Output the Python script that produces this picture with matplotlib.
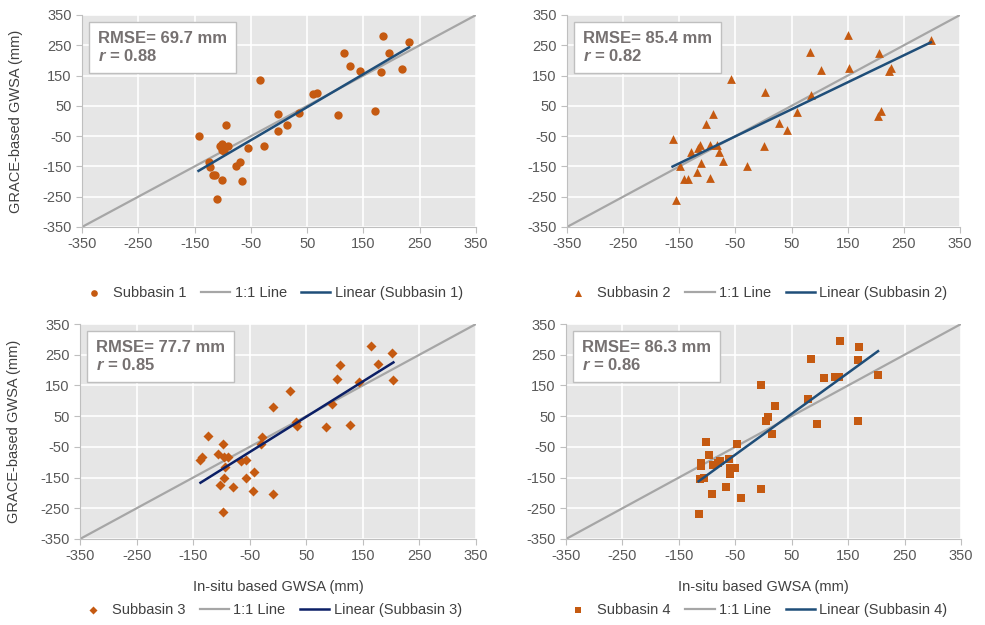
import matplotlib
matplotlib.use('Agg')
import matplotlib.pyplot as plt
import numpy as np

plt.rcParams['font.family'] = ['Liberation Sans Narrow', 'Liberation Sans', 'DejaVu Sans']
plt.rcParams['axes.unicode_minus'] = False
plt.rcParams['mathtext.fontset'] = 'custom'
plt.rcParams['mathtext.it'] = 'Liberation Sans:bold:italic'
plt.rcParams['mathtext.rm'] = 'Liberation Sans:bold'

# ================= 数据 =================
axis_range = [-350, 350]
ticks = [-350, -250, -150, -50, 50, 150, 250, 350]

s1_x = [-143, -94, -33, -125, -123, -118, -113, -101, -111, -105, -101, -91, -102, -97,
        -70, -76, -66, -55, -27, -2, -1, 14, 35, 60, 67, 104, 115, 127, 144, 171, 181,
        184, 195, 219, 231]
s1_y = [-49, -12, 135, -134, -153, -178, -178, -195, -257, -82, -77, -82, -95, -98,
        -134, -150, -197, -88, -82, 22, -33, -13, 27, 88, 91, 19, 223, 180, 165, 32, 161,
        281, 225, 172, 261]

s2_x = [-162, -155, -148, -142, -134, -129, -119, -116, -113, -111, -103, -96, -95, -90,
        -82, -79, -72, -57, -29, 1, 2, 28, 41, 60, 82, 84, 103, 150, 153, 204, 210, 205,
        223, 227, 298]
s2_y = [-60, -260, -148, -191, -191, -103, -169, -90, -79, -139, -11, -79, -189, 24,
        -79, -104, -131, 139, -147, -84, 97, -8, -30, 31, 228, 86, 168, 284, 175, 18, 34,
        226, 165, 174, 268]

s3_x = [-137, -134, -123, -106, -97, -96, -89, -93, -95, -102, -79, -97, -66, -56, -56,
        -43, -45, -28, -30, -9, -8, 22, 32, 34, 85, 96, 104, 110, 127, 143, 164, 177,
        202, 204]
s3_y = [-93, -82, -16, -74, -42, -82, -84, -115, -150, -175, -180, -262, -95, -93, -150,
        -133, -193, -17, -42, 79, -202, 133, 31, 18, 16, 88, 172, 218, 21, 162, 278, 220,
        255, 168]

s4_x = [-115, -113, -105, -111, -111, -102, -96, -92, -90, -81, -77, -67, -61, -59, -50,
        -59, -47, -40, -5, -4, 4, 8, 15, 20, 78, 84, 95, 107, 126, 134, 135, 167, 167,
        169, 203]
s4_y = [-270, -155, -150, -112, -101, -35, -75, -202, -110, -104, -95, -180, -88, -120,
        -118, -137, -40, -218, -186, 150, 33, 46, -8, 83, 107, 235, 25, 175, 177, 179,
        295, 33, 232, 274, 185]

rmse = [69.7, 85.4, 77.7, 86.3]
r_vals = [0.88, 0.82, 0.85, 0.86]
names = ['Subbasin 1', 'Subbasin 2', 'Subbasin 3', 'Subbasin 4']
markers = ['o', '^', 'D', 's']
marker_sizes = [36, 40, 26, 36]
fit_colors = ['#1f4e79', '#1f4e79', '#0b1f66', '#1f4e79']

all_x = [s1_x, s2_x, s3_x, s4_x]
all_y = [s1_y, s2_y, s3_y, s4_y]

# 子图位置（像素换算）
W, H = 985, 625
boxes = [(82, 15, 394, 212), (567, 15, 393, 212),
         (80, 324, 396, 215), (566, 324, 395, 215)]

fig = plt.figure(figsize=(9.85, 6.25), dpi=100)

for i in range(4):
    x0, y0, w, h = boxes[i]
    ax = fig.add_axes([x0 / W, 1 - (y0 + h) / H, w / W, h / H])
    ax.set_facecolor('#e6e6e6')
    ax.set_xlim(axis_range)
    ax.set_ylim(axis_range)
    ax.set_xticks(ticks)
    ax.set_yticks(ticks)
    ax.grid(True, color='white', linewidth=1.2)
    ax.set_axisbelow(True)
    for side in ['top', 'right']:
        ax.spines[side].set_visible(False)
    for side in ['left', 'bottom']:
        ax.spines[side].set_color('#bfbfbf')
    ax.tick_params(colors='#bfbfbf', labelcolor='#595959', labelsize=10.5, length=4)

    xs = np.array(all_x[i])
    ys = np.array(all_y[i])

    ax.scatter(xs, ys, marker=markers[i], s=marker_sizes[i], color='#c55a11',
               linewidths=0, zorder=3, label=names[i])
    ax.plot(axis_range, axis_range, color='#a6a6a6', linewidth=1.6, zorder=2,
            label='1:1 Line')

    # 线性拟合
    k, b = np.polyfit(xs, ys, 1)
    fx = np.array([xs.min(), xs.max()])
    ax.plot(fx, k * fx + b, color=fit_colors[i], linewidth=1.8, zorder=4,
            label=f'Linear ({names[i]})')

    ax.text(0.04, 0.925, f'RMSE= {rmse[i]} mm\n$r$ = {r_vals[i]:.2f}',
            transform=ax.transAxes, ha='left', va='top', fontsize=12,
            fontweight='bold', color='#767171', family='Liberation Sans',
            linespacing=1.15,
            bbox=dict(boxstyle='square,pad=0.55', fc='white', ec='#bfbfbf', lw=1))

    if i % 2 == 0:
        ax.set_ylabel('GRACE-based GWSA (mm)', fontsize=10.5, color='#404040')
        ax.yaxis.set_label_coords(-0.15, 0.5)
    if i >= 2:
        ax.set_xlabel('In-situ based GWSA (mm)', fontsize=10.5, color='#404040')
        ax.xaxis.set_label_coords(0.5, -0.19)

    leg_y = -0.31 if i < 2 else -0.33
    ax.legend(loc='center', bbox_to_anchor=(0.48, leg_y), ncol=3, frameon=False,
              fontsize=10.5, handlelength=2.0, handletextpad=0.3, columnspacing=1.0,
              markerscale=0.8, labelcolor='#404040')

fig.savefig('out.png', dpi=100)
